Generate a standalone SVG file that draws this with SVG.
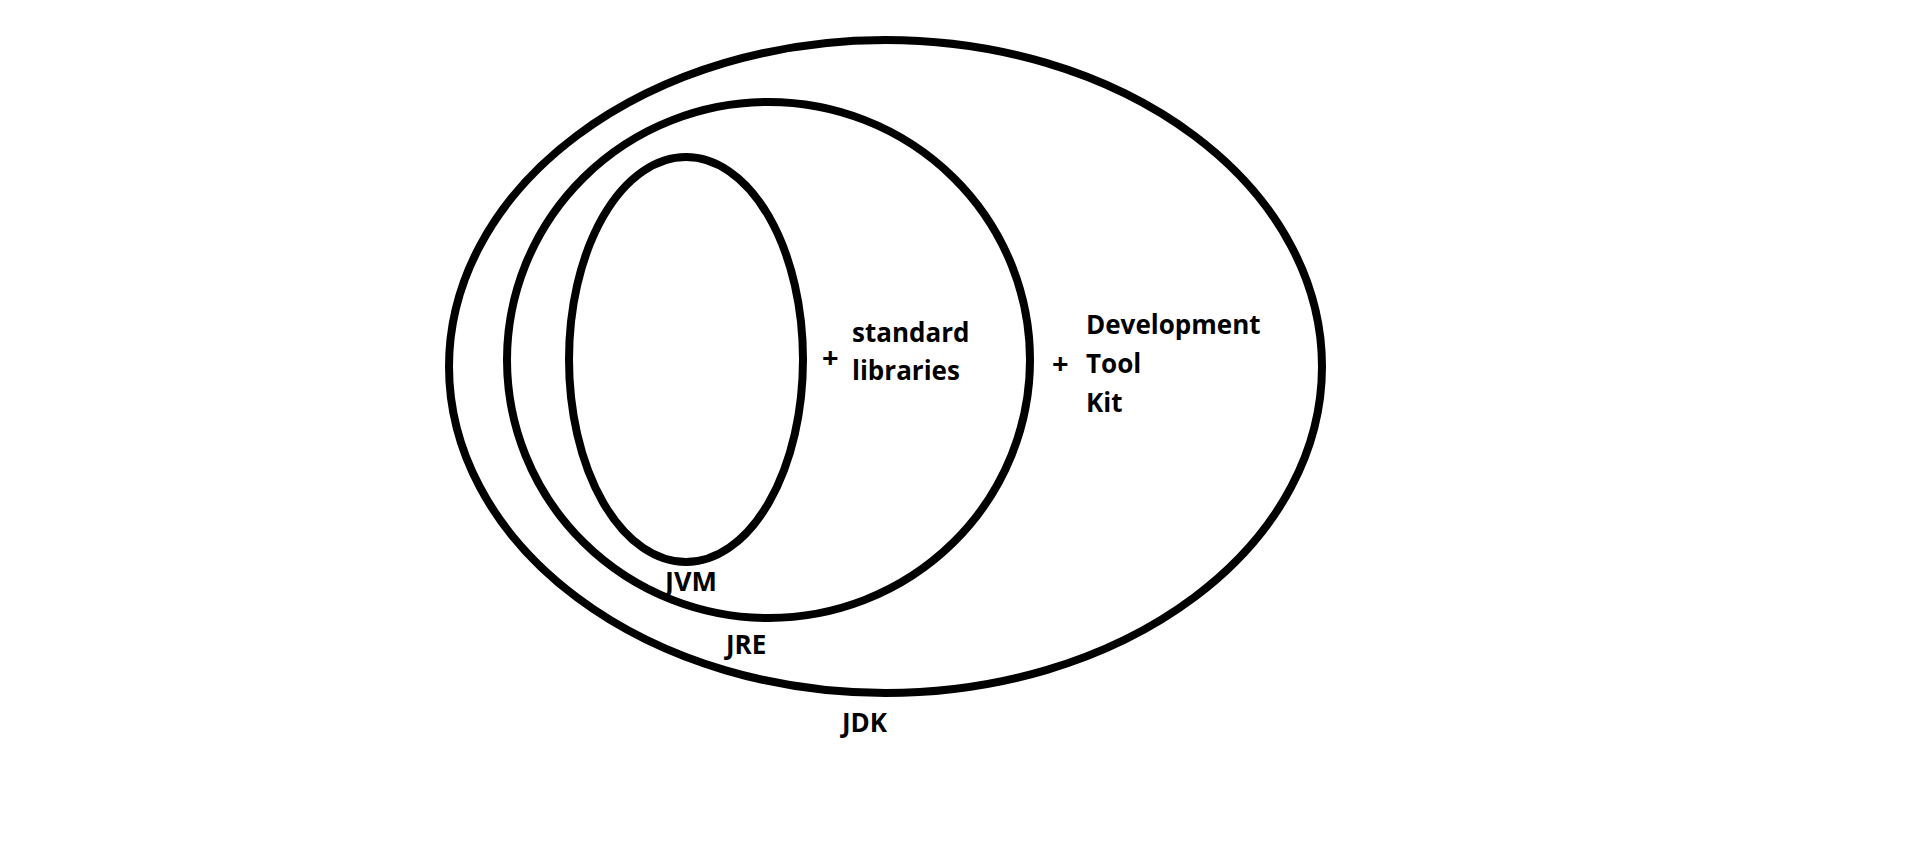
<svg xmlns="http://www.w3.org/2000/svg" width="1914" height="848" viewBox="0 0 1914 848">
<style>
.ring{fill:none;stroke:#000;stroke-width:8}
.t{font-family:"Open Sans","Noto Sans","Liberation Sans",sans-serif;font-weight:bold;font-size:26px;fill:#000}
.p{font-size:29px}
</style>
<rect width="1914" height="848" fill="#fff"/>
<g id="jdk">
<ellipse class="ring" cx="885.5" cy="366.5" rx="436.5" ry="326.5"/>
<text class="t" x="842" y="732">JDK</text>
<text class="t p" x="1052" y="374">+</text>
<text class="t" x="1086" y="334">Development</text>
<text class="t" x="1086" y="373">Tool</text>
<text class="t" x="1086" y="412">Kit</text>
</g>
<g id="jre">
<ellipse class="ring" cx="768.5" cy="360" rx="261.5" ry="258"/>
<text class="t" x="726" y="654">JRE</text>
<text class="t p" x="822" y="368">+</text>
<text class="t" x="852" y="342">standard</text>
<text class="t" x="852" y="380">libraries</text>
</g>
<g id="jvm">
<ellipse class="ring" cx="686" cy="359.5" rx="117" ry="202.5"/>
<text class="t" x="665" y="591" style="font-size:27px">JVM</text>
</g>
<g id="connectors"></g>
</svg>
